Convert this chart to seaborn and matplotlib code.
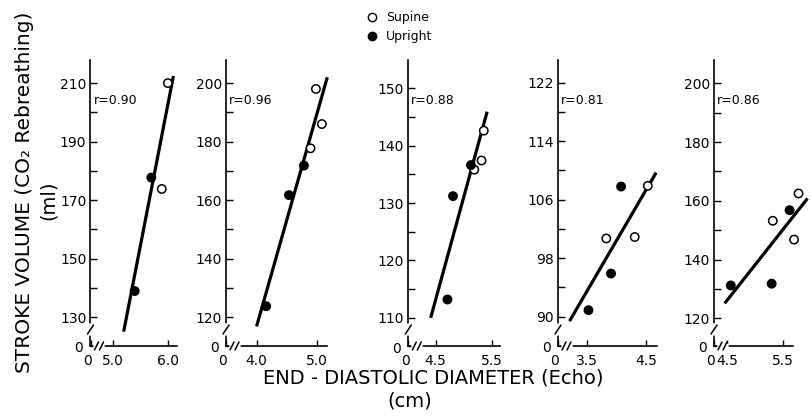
import matplotlib
matplotlib.use("Agg")
import matplotlib.pyplot as plt
import matplotlib.transforms as mtransforms
from matplotlib.lines import Line2D
import pandas as pd
import seaborn as sns

# values
r_values = ["0.90", "0.96", "0.88", "0.81", "0.86"]

supine_x = [[5.99, 5.88], [4.99, 5.09, 4.90], [5.36, 5.32, 5.19], [4.53, 3.83, 4.31], [5.78, 5.32, 5.70]]
supine_y = [[210, 173.8], [198, 186, 177.7], [142.6, 137.4, 135.8], [107.9, 100.7, 100.9], [162.5, 153.2, 146.8]]
upright_x = [[5.69, 5.39], [4.79, 4.54, 4.16], [5.13, 4.81, 4.71], [4.08, 3.91, 3.53], [5.62, 5.30, 4.57]]
upright_y = [[177.7, 138.9], [171.8, 161.7, 123.7], [136.6, 131.2, 113.2], [107.8, 95.9, 90.9], [156.8, 131.8, 131.2]]

# end points of the drawn regression lines
fit_x = [(5.19, 6.09), (4.00, 5.18), (4.41, 5.42), (3.21, 4.67), (4.46, 5.94)]
fit_y = [(125, 212.4), (116.8, 202), (110, 145.9), (89.4, 109.7), (125.1, 160.8)]

y_ticks = [[130, 150, 170, 190, 210], [120, 140, 160, 180, 200], [110, 120, 130, 140, 150],
           [90, 98, 106, 114, 122], [120, 140, 160, 180, 200]]
x_ticks = [[5.0, 6.0], [4.0, 5.0], [4.5, 5.5], [3.5, 4.5], [4.5, 5.5]]
x_range = [(4.59, 6.15), (3.49, 5.17), (4.01, 5.65), (3.016, 4.68), (4.27, 5.69)]
y_range = [(120.1, 217.9), (110.1, 207.9), (105.1, 154.9), (86.0, 125.1), (110.6, 207.9)]

# layout (pixels)
W, H = 812, 420
ax_left = [90.5, 226, 408.3, 558, 714]
ax_right = [176.7, 326.7, 500, 656.7, 793.5]
ax_top, ax_bottom = 60, 346

sns.set_style("white")
plt.rcParams['font.family'] = ['DejaVu Sans']
plt.rcParams['text.color'] = 'black'
plt.rcParams['xtick.color'] = 'black'
plt.rcParams['ytick.color'] = 'black'
plt.rcParams['xtick.labelcolor'] = 'black'
plt.rcParams['ytick.labelcolor'] = 'black'

fig = plt.figure(figsize=(W / 100, H / 100), dpi=100)

for i in range(5):
    wpx = ax_right[i] - ax_left[i]
    hpx = ax_bottom - ax_top
    ax = fig.add_axes([ax_left[i] / W, 1 - ax_bottom / H, wpx / W, hpx / H])
    ax.set_facecolor("none")

    df = pd.DataFrame({
        "edd": supine_x[i] + upright_x[i],
        "sv": supine_y[i] + upright_y[i],
        "posture": ["Supine"] * len(supine_x[i]) + ["Upright"] * len(upright_x[i]),
    })
    sns.lineplot(x=list(fit_x[i]), y=list(fit_y[i]), color="black", linewidth=2.3,
                 ax=ax, clip_on=False, zorder=3, solid_capstyle="butt")
    sns.scatterplot(data=df, x="edd", y="sv", hue="posture",
                    palette={"Supine": "white", "Upright": "black"},
                    edgecolor="black", linewidth=1.1, s=36, legend=False,
                    ax=ax, clip_on=False, zorder=4)

    ax.set_xlim(*x_range[i])
    ax.set_ylim(*y_range[i])

    yt = y_ticks[i]
    ax.set_yticks([y_range[i][0]] + yt, ["0"] + [str(v) for v in yt])
    ax.set_yticks([(a + b) / 2 for a, b in zip(yt[:-1], yt[1:])], minor=True)
    ax.set_xticks([x_range[i][0]] + x_ticks[i], ["0"] + [f"{v:.1f}" for v in x_ticks[i]])

    ax.tick_params(axis="y", which="both", direction="in", length=5, width=1.0,
                   labelsize=10, pad=3, left=True)
    ax.tick_params(axis="x", which="both", direction="in", length=4, width=1.0,
                   labelsize=10, pad=6, bottom=True)
    # nudge the "0" labels at the corner a little outward
    zx = ax.get_xticklabels()[0]
    zx.set_transform(zx.get_transform() + mtransforms.ScaledTranslation(-0.03, 0, fig.dpi_scale_trans))
    zy = ax.get_yticklabels()[0]
    zy.set_transform(zy.get_transform() + mtransforms.ScaledTranslation(-0.03, -0.01, fig.dpi_scale_trans))

    ax.set_xlabel("")
    ax.set_ylabel("")
    for side in ["top", "right"]:
        ax.spines[side].set_visible(False)
    for side in ["left", "bottom"]:
        ax.spines[side].set_linewidth(1.2)
        ax.spines[side].set_color("black")

    # axis breaks
    fx = 1.0 / wpx
    fy = 1.0 / hpx
    kw = dict(transform=ax.transAxes, clip_on=False, zorder=6)
    ax.plot([0, 0], [13 * fy, 20 * fy], color="white", linewidth=4, **kw)
    ax.plot([-3 * fx, 3 * fx], [12 * fy, 21 * fy], color="black", linewidth=1.1, **kw)
    ax.plot([6 * fx, 12 * fx], [0, 0], color="white", linewidth=4, **kw)
    for bx in (6, 11):
        ax.plot([(bx - 2) * fx, (bx + 2) * fx], [-4 * fy, 4 * fy], color="black", linewidth=1.1, **kw)

    ax.annotate(f"r={r_values[i]}", xy=(0, 1), xycoords="axes fraction",
                xytext=(3, -40), textcoords="offset pixels",
                ha="left", va="center", fontsize=9)

handles = [
    Line2D([], [], marker="o", linestyle="none", markerfacecolor="white",
           markeredgecolor="black", markeredgewidth=1.0, markersize=6),
    Line2D([], [], marker="o", linestyle="none", markerfacecolor="black",
           markeredgecolor="black", markersize=6),
]
fig.legend(handles, ["Supine", "Upright"], loc="upper left",
           bbox_to_anchor=(366 / W, 1 - 11 / H), frameon=False, fontsize=9,
           handlelength=1.0, handletextpad=0.6, labelspacing=0.5,
           borderpad=0, borderaxespad=0)

fig.text(25 / W, 1 - 192 / H, "STROKE VOLUME (CO\u2082 Rebreathing)", rotation=90,
         ha="center", va="center", fontsize=14.5)
fig.text(48 / W, 1 - 200 / H, "(ml)", rotation=90, ha="center", va="center", fontsize=14)
fig.text(433 / W, 1 - 378 / H, "END - DIASTOLIC DIAMETER (Echo)",
         ha="center", va="center", fontsize=14)
fig.text(410 / W, 1 - 401 / H, "(cm)", ha="center", va="center", fontsize=14)

fig.savefig("out.png", dpi=100)
